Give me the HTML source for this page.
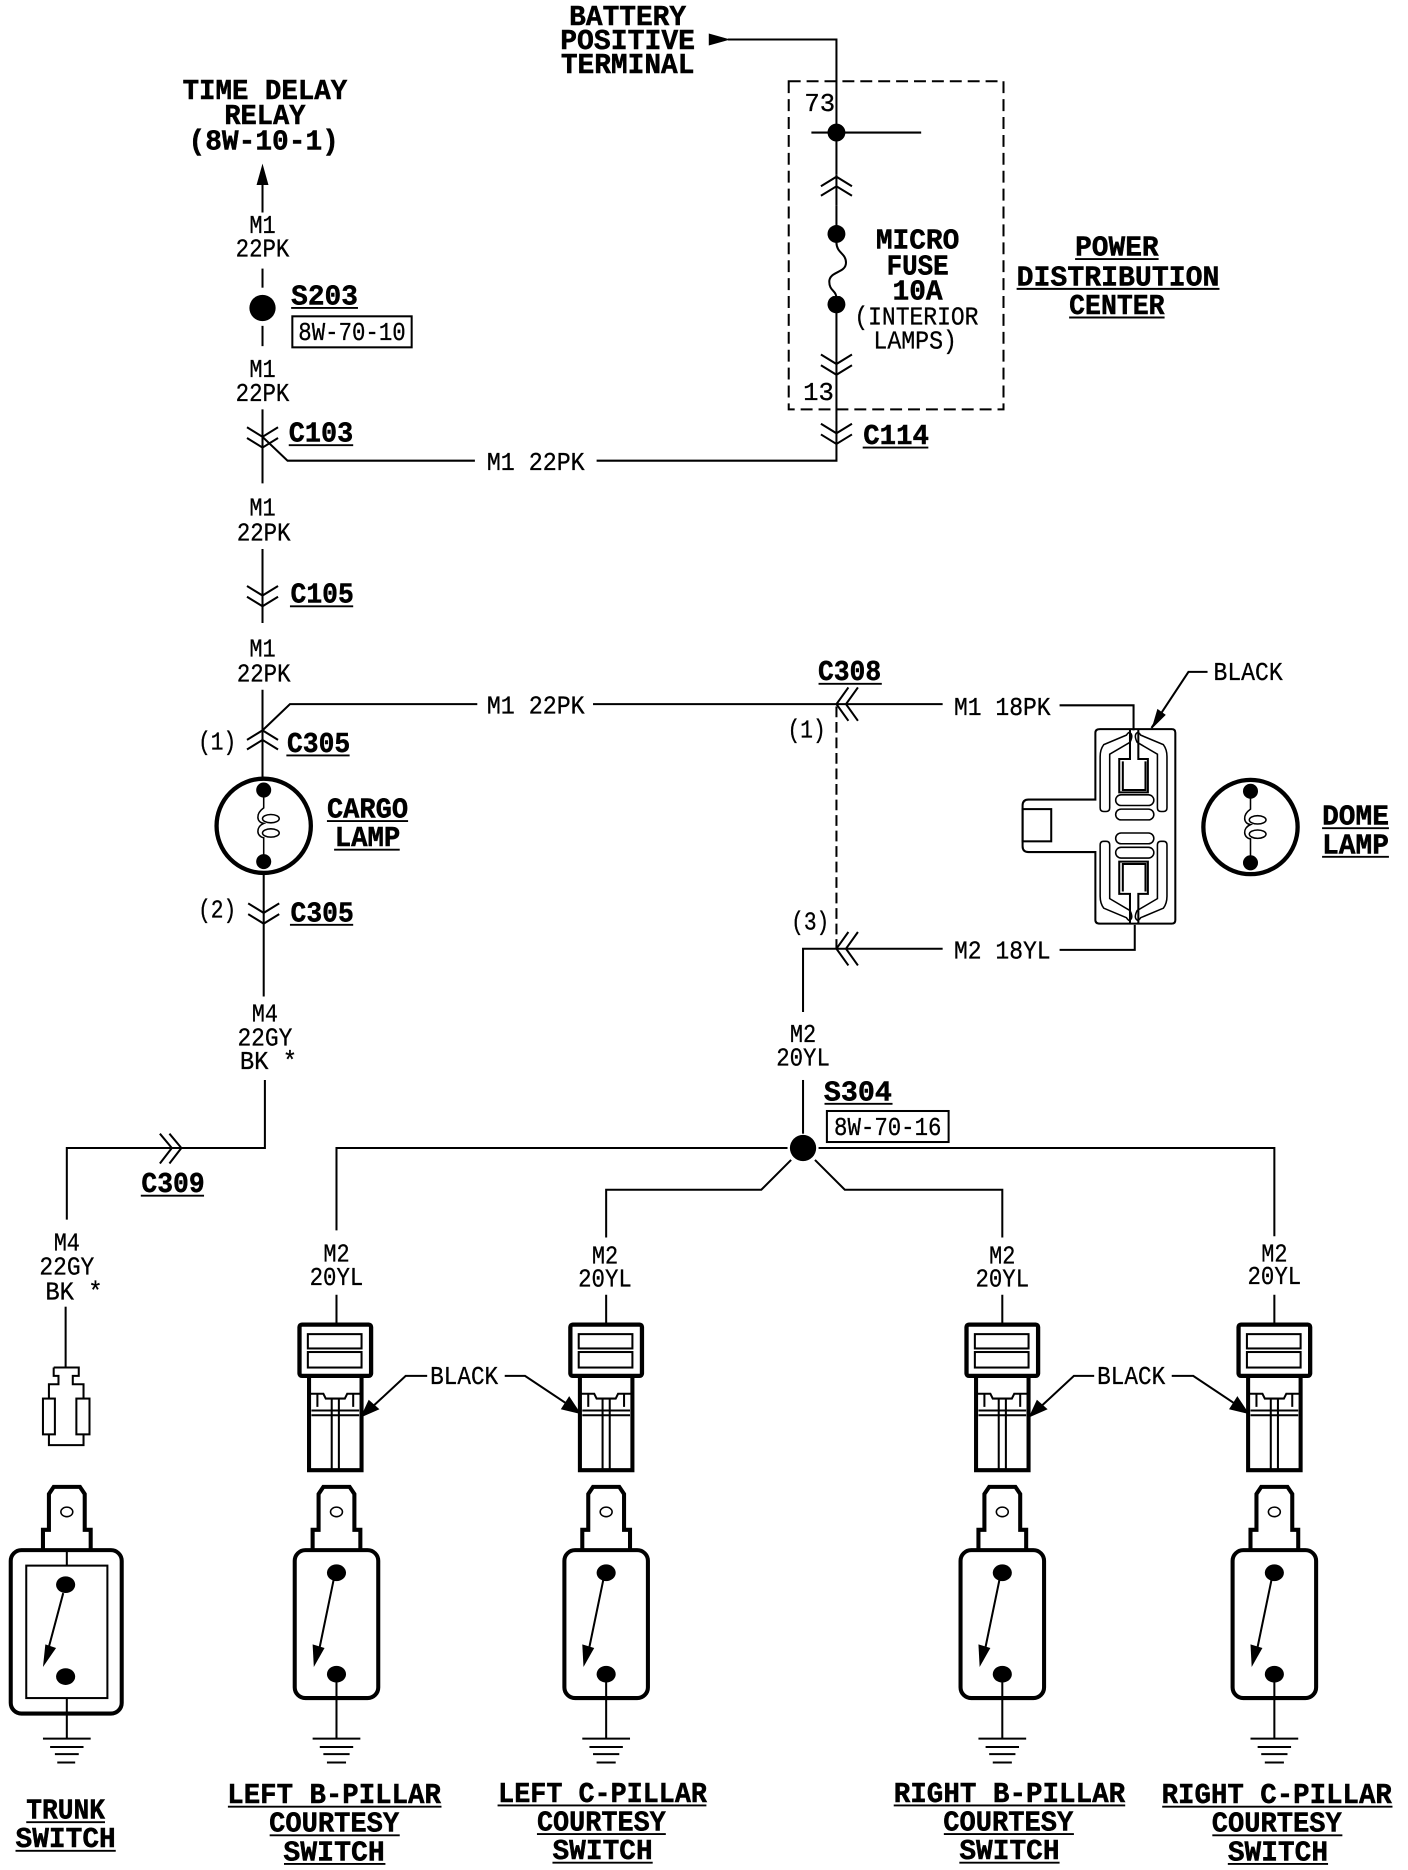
<!DOCTYPE html>
<html><head><meta charset="utf-8"><title>Interior lamps wiring diagram</title>
<style>
html,body{margin:0;padding:0;background:#fff;}
svg{display:block;}
text{fill:#000;font-family:"Liberation Mono",monospace;}
.t{font-size:21.5px;text-anchor:middle;transform:translateY(1px);stroke:#000;stroke-width:.25px;}
.b{font-size:24px;font-weight:bold;text-anchor:middle;stroke:#000;stroke-width:.4px;transform:translateY(1px);}
.w{fill:none;stroke:#000;stroke-width:1.7;}
.k{fill:none;stroke:#000;stroke-width:3.4;}
.n{fill:none;stroke:#000;stroke-width:1.3;}
.u{stroke:#000;stroke-width:1.6;}
.f{fill:#000;stroke:none;}
</style></head><body>
<svg width="1408" height="1870" viewBox="0 0 1180 1567" xmlns="http://www.w3.org/2000/svg">
<defs>
<path id="cd" class="w" d="M-13,-8 L0,0 L13,-8 M-13,1 L0,9 L13,1"/>
<path id="cu" class="w" d="M-13,8 L0,0 L13,8 M-13,16 L0,8 L13,16"/>
<path id="cl" class="w" d="M10,-14 L0,0 L10,14 M18,-14 L8,0 L18,14"/>
<g id="lamp">
<circle r="39.5" fill="#fff" stroke="#000" stroke-width="3.6"/>
<circle cy="-30" r="6.3" class="f"/><circle cy="30" r="6.3" class="f"/>
<path class="n" stroke-width="1.5" d="M0,-30 V-15 C-7,-10 -6,-3 0,-2 C-7,1 -6,9 0,10 V30"/>
<ellipse class="n" cx="6" cy="-6" rx="7" ry="3.5"/>
<ellipse class="n" cx="6" cy="6" rx="7" ry="3.5"/>
</g>
<g id="tab">
<path class="k" d="M-20,1299 V1282 H-15 V1252 L-11,1246 H11 L15,1252 V1282 H20 V1299"/>
<ellipse class="n" cy="1267" rx="5" ry="4"/>
</g>
<g id="gnd">
<path class="w" d="M0,1423 V1457"/>
<path class="w" d="M-20,1457 H20 M-14,1464 H14 M-11,1470 H11 M-8,1477 H8"/>
</g>
<g id="sw">
<use href="#tab"/>
<rect x="-35" y="1299" width="70" height="124" rx="9" fill="#fff" stroke="#000" stroke-width="3.4"/>
<ellipse cy="1318" rx="8" ry="7" class="f"/><ellipse cy="1403" rx="8" ry="7" class="f"/>
<path class="w" d="M-2,1322 L-14,1380"/>
<path class="f" d="M-19,1397 L-20,1378 L-10,1381 Z"/>
<path class="w" d="M0,1403 V1423"/>
<use href="#gnd"/>
</g>
<g id="cn">
<rect x="-30" y="1110" width="60" height="43" rx="2" fill="#fff" stroke="#000" stroke-width="3.6"/>
<rect x="-23" y="1118" width="45" height="12" class="w"/>
<rect x="-23" y="1133" width="45" height="13" class="w"/>
<path class="k" d="M-22,1153 V1232 H22 V1153"/>
<path class="w" d="M-22,1168 H-15 V1179 M22,1168 H15 V1179 M-15,1168 H-10 L-8,1172 H8 L10,1168 H15 M-20,1182 H20 M-20,1186 H20"/>
<path class="w" d="M-3,1172 V1232 M3,1172 V1232"/>
</g>
<g id="dome-q">
<path class="n" stroke-width="1.5" d="M-6,616 L-25,624 Q-28,628 -28,634 V677 Q-28,680 -25,680 H-23 Q-20,680 -20,677 V632 L-3,622 Q0,616 -3,614 Q-4,613 -6,616 Z"/>
</g>
</defs>

<!-- Battery -->
<text class="b" x="526" y="20" textLength="98" lengthAdjust="spacingAndGlyphs">BATTERY</text>
<text class="b" x="526" y="40" textLength="113" lengthAdjust="spacingAndGlyphs">POSITIVE</text>
<text class="b" x="526" y="60" textLength="112" lengthAdjust="spacingAndGlyphs">TERMINAL</text>
<path class="f" d="M594,28 L612,33 L594,38 Z"/>
<path class="w" d="M610,33 H701 V386 H500"/>

<!-- PDC box -->
<rect x="661" y="68" width="180" height="275" fill="none" stroke="#000" stroke-width="1.7" stroke-dasharray="10 5"/>
<text class="t" x="687" y="92">73</text>
<text class="t" x="686" y="334">13</text>
<path class="w" d="M680,111 H772"/>
<circle cx="701" cy="111" r="7.5" class="f"/>
<rect x="688" y="146" width="26" height="26" fill="#fff"/>
<use href="#cu" x="701" y="148"/>
<path class="w" d="M701,146 V172"/>
<circle cx="701" cy="196" r="7.5" class="f"/>
<circle cx="701" cy="255" r="7.5" class="f"/>
<rect x="692" y="204" width="20" height="44" fill="#fff"/>
<path class="w" d="M701,203 C701,212 709,212 709,220 C709,229 695,227 695,236 C695,244 701,243 701,250"/>
<use href="#cd" x="701" y="305"/>
<use href="#cd" x="701" y="363"/>

<text class="b" x="769" y="207" textLength="70" lengthAdjust="spacingAndGlyphs">MICRO</text>
<text class="b" x="769" y="229" textLength="52" lengthAdjust="spacingAndGlyphs">FUSE</text>
<text class="b" x="769" y="250" textLength="42" lengthAdjust="spacingAndGlyphs">10A</text>
<text class="t" x="768" y="271" textLength="104" lengthAdjust="spacingAndGlyphs">(INTERIOR</text>
<text class="t" x="767" y="291" textLength="70" lengthAdjust="spacingAndGlyphs">LAMPS)</text>

<text class="b" x="936" y="213" textLength="70" lengthAdjust="spacingAndGlyphs">POWER</text><line class="u" x1="901" x2="971" y1="217" y2="217"/>
<text class="b" x="937" y="238" textLength="170" lengthAdjust="spacingAndGlyphs">DISTRIBUTION</text><line class="u" x1="852" x2="1022" y1="242" y2="242"/>
<text class="b" x="936" y="262" textLength="80" lengthAdjust="spacingAndGlyphs">CENTER</text><line class="u" x1="896" x2="976" y1="266" y2="266"/>
<text class="b" x="751" y="371" textLength="55" lengthAdjust="spacingAndGlyphs">C114</text><line class="u" x1="723" x2="778" y1="375" y2="375"/>

<text class="t" x="449" y="393" textLength="82" lengthAdjust="spacingAndGlyphs">M1 22PK</text>
<path class="w" d="M398,386 H241 L220,366"/>

<!-- Left column -->
<text class="b" x="222" y="82" textLength="138" lengthAdjust="spacingAndGlyphs">TIME DELAY</text>
<text class="b" x="222" y="103" textLength="68" lengthAdjust="spacingAndGlyphs">RELAY</text>
<text class="b" x="221" y="124" textLength="126" lengthAdjust="spacingAndGlyphs">(8W-10-1)</text>
<path class="f" d="M220,137 L225,155 H215 Z"/>
<path class="w" d="M220,154 V178"/>
<text class="t" x="220" y="194" textLength="22" lengthAdjust="spacingAndGlyphs">M1</text>
<text class="t" x="220" y="214" textLength="45" lengthAdjust="spacingAndGlyphs">22PK</text>
<path class="w" d="M220,225 V241"/>
<circle cx="220" cy="258" r="11" class="f"/>
<path class="w" d="M220,273 V290"/>
<text class="b" x="272" y="254" textLength="56" lengthAdjust="spacingAndGlyphs">S203</text><line class="u" x1="244" x2="300" y1="258" y2="258"/>
<rect x="245" y="265" width="100" height="26" class="w"/>
<text class="t" x="295" y="284" textLength="90" lengthAdjust="spacingAndGlyphs">8W-70-10</text>
<text class="t" x="220" y="315" textLength="22" lengthAdjust="spacingAndGlyphs">M1</text>
<text class="t" x="220" y="335" textLength="45" lengthAdjust="spacingAndGlyphs">22PK</text>
<path class="w" d="M220,343 V405"/>
<use href="#cd" x="220" y="366"/>
<text class="b" x="269" y="369" textLength="54" lengthAdjust="spacingAndGlyphs">C103</text><line class="u" x1="242" x2="296" y1="373" y2="373"/>
<text class="t" x="220" y="431" textLength="22" lengthAdjust="spacingAndGlyphs">M1</text>
<text class="t" x="221" y="452" textLength="45" lengthAdjust="spacingAndGlyphs">22PK</text>
<path class="w" d="M220,460 V522"/>
<use href="#cd" x="220" y="499"/>
<text class="b" x="270" y="504" textLength="53" lengthAdjust="spacingAndGlyphs">C105</text><line class="u" x1="243" x2="296" y1="508" y2="508"/>
<text class="t" x="220" y="549" textLength="22" lengthAdjust="spacingAndGlyphs">M1</text>
<text class="t" x="221" y="570" textLength="45" lengthAdjust="spacingAndGlyphs">22PK</text>
<path class="w" d="M220,578 V652"/>
<use href="#cu" x="220" y="612"/>
<path class="w" d="M220,612 L243,590 H400"/>
<text class="t" x="449" y="597" textLength="82" lengthAdjust="spacingAndGlyphs">M1 22PK</text>
<text class="t" x="182" y="627" textLength="32" lengthAdjust="spacingAndGlyphs">(1)</text>
<text class="b" x="267" y="629" textLength="53" lengthAdjust="spacingAndGlyphs">C305</text><line class="u" x1="240" x2="293" y1="633" y2="633"/>

<use href="#lamp" x="221" y="692"/>
<text class="b" x="308" y="684" textLength="68" lengthAdjust="spacingAndGlyphs">CARGO</text><line class="u" x1="274" x2="342" y1="688" y2="688"/>
<text class="b" x="308" y="708" textLength="55" lengthAdjust="spacingAndGlyphs">LAMP</text><line class="u" x1="280" x2="335" y1="712" y2="712"/>

<path class="w" d="M221,732 V835"/>
<use href="#cd" x="221" y="765"/>
<text class="t" x="182" y="768" textLength="32" lengthAdjust="spacingAndGlyphs">(2)</text>
<text class="b" x="270" y="771" textLength="53" lengthAdjust="spacingAndGlyphs">C305</text><line class="u" x1="243" x2="296" y1="775" y2="775"/>
<text class="t" x="222" y="855" textLength="22" lengthAdjust="spacingAndGlyphs">M4</text>
<text class="t" x="222" y="875" textLength="46" lengthAdjust="spacingAndGlyphs">22GY</text>
<text class="t" x="225" y="895" textLength="48" lengthAdjust="spacingAndGlyphs">BK *</text>
<path class="w" d="M222,905 V962 H56 V1022"/>
<path class="w" d="M134,950 L144,962 L134,975 M142,950 L152,962 L142,975"/>
<text class="b" x="145" y="998" textLength="53" lengthAdjust="spacingAndGlyphs">C309</text><line class="u" x1="118" x2="171" y1="1002" y2="1002"/>
<text class="t" x="56" y="1047" textLength="22" lengthAdjust="spacingAndGlyphs">M4</text>
<text class="t" x="56" y="1067" textLength="46" lengthAdjust="spacingAndGlyphs">22GY</text>
<text class="t" x="62" y="1088" textLength="48" lengthAdjust="spacingAndGlyphs">BK *</text>
<path class="w" d="M55,1095 V1146"/>

<!-- Trunk connector -->
<path class="w" d="M45,1146 H66 V1153 H61 V1160 H70 V1172 M45,1146 V1153 H49 V1160 H41 V1172 M41,1202 V1211 H70 V1202"/>
<rect x="36" y="1172" width="10" height="30" class="w"/>
<rect x="64" y="1172" width="11" height="30" class="w"/>

<!-- Trunk switch -->
<use href="#tab" x="56"/>
<rect x="9" y="1299" width="93" height="137" rx="9" fill="#fff" stroke="#000" stroke-width="3.4"/>
<rect x="22" y="1312" width="68" height="111" class="w"/>
<path class="w" d="M56,1299 V1312 M56,1423 V1457 M36,1457 H76 M42,1464 H70 M46,1470 H66 M48,1477 H63"/>
<ellipse cx="55" cy="1328" rx="8" ry="7" class="f"/>
<ellipse cx="55" cy="1405" rx="8" ry="7" class="f"/>
<path class="w" d="M53,1335 L41,1380"/>
<path class="f" d="M36,1397 L38,1378 L47,1381 Z"/>
<text class="b" x="55" y="1523" textLength="66" lengthAdjust="spacingAndGlyphs">TRUNK</text><line class="u" x1="22" x2="88" y1="1527" y2="1527"/>
<text class="b" x="55" y="1547" textLength="84" lengthAdjust="spacingAndGlyphs">SWITCH</text><line class="u" x1="13" x2="97" y1="1551" y2="1551"/>

<!-- C308 -->
<text class="b" x="712" y="569" textLength="53" lengthAdjust="spacingAndGlyphs">C308</text><line class="u" x1="686" x2="739" y1="573" y2="573"/>
<path class="w" d="M497,590 H790"/>
<use href="#cl" x="701" y="590"/>
<text class="t" x="676" y="617" textLength="32" lengthAdjust="spacingAndGlyphs">(1)</text>
<path class="w" stroke-dasharray="9 4" d="M701,592 V795"/>
<text class="t" x="679" y="778" textLength="32" lengthAdjust="spacingAndGlyphs">(3)</text>
<path class="w" d="M790,795 H673 V848"/>
<use href="#cl" x="701" y="795"/>
<text class="t" x="840" y="598" textLength="81" lengthAdjust="spacingAndGlyphs">M1 18PK</text>
<text class="t" x="840" y="802" textLength="81" lengthAdjust="spacingAndGlyphs">M2 18YL</text>
<path class="w" d="M888,591 H950 V612 M888,796 H951 V775"/>

<!-- Dome connector -->
<path class="w" d="M922,611 H982 Q985,611 985,614 V771 Q985,774 982,774 H922 Q918,774 918,771 V714 H862 Q857,714 857,709 V675 Q857,670 862,670 H918 V614 Q918,611 922,611 Z"/>
<rect x="857" y="678" width="24" height="27" class="w"/>
<path class="w" d="M947,611 V636 H938 V664 H962 V636 H954 V611"/>
<path class="w" d="M941,638 V662 H960 V638"/>
<path class="w" d="M947,774 V749 H938 V722 H962 V749 H954 V774"/>
<path class="w" d="M941,747 V724 H960 V747"/>
<rect x="935" y="666" width="32" height="9" rx="4.5" class="n"/>
<rect x="935" y="678" width="32" height="9" rx="4.5" class="n"/>
<rect x="935" y="698" width="32" height="9" rx="4.5" class="n"/>
<rect x="935" y="710" width="32" height="9" rx="4.5" class="n"/>
<use href="#dome-q" x="950"/>
<use href="#dome-q" transform="translate(950,0) scale(-1,1)"/>
<use href="#dome-q" transform="translate(950,1385) scale(1,-1)"/>
<use href="#dome-q" transform="translate(950,1385) scale(-1,-1)"/>
<path class="w" d="M965,610 L996,563 H1012"/>
<path class="f" d="M965,611 L970,594 L977,599 Z"/>
<text class="t" x="1046" y="569" textLength="58" lengthAdjust="spacingAndGlyphs">BLACK</text>

<use href="#lamp" x="1048" y="693"/>
<text class="b" x="1136" y="690" textLength="56" lengthAdjust="spacingAndGlyphs">DOME</text><line class="u" x1="1108" x2="1164" y1="694" y2="694"/>
<text class="b" x="1136" y="714" textLength="56" lengthAdjust="spacingAndGlyphs">LAMP</text><line class="u" x1="1108" x2="1164" y1="718" y2="718"/>

<!-- S304 -->
<text class="t" x="673" y="872" textLength="22" lengthAdjust="spacingAndGlyphs">M2</text>
<text class="t" x="673" y="892" textLength="45" lengthAdjust="spacingAndGlyphs">20YL</text>
<path class="w" d="M673,905 V950"/>
<circle cx="673" cy="962" r="11" class="f"/>
<text class="b" x="719" y="921" textLength="57" lengthAdjust="spacingAndGlyphs">S304</text><line class="u" x1="691" x2="748" y1="925" y2="925"/>
<rect x="693" y="931" width="102" height="26" class="w"/>
<text class="t" x="744" y="950" textLength="90" lengthAdjust="spacingAndGlyphs">8W-70-16</text>
<path class="w" d="M660,962 H282 V1031 M686,962 H1068 V1036 M663,972 L638,997 H508 V1037 M683,972 L708,997 H840 V1037"/>

<!-- Column labels -->
<text class="t" x="282" y="1056" textLength="22" lengthAdjust="spacingAndGlyphs">M2</text>
<text class="t" x="282" y="1076" textLength="45" lengthAdjust="spacingAndGlyphs">20YL</text>
<text class="t" x="507" y="1058" textLength="22" lengthAdjust="spacingAndGlyphs">M2</text>
<text class="t" x="507" y="1077" textLength="45" lengthAdjust="spacingAndGlyphs">20YL</text>
<text class="t" x="840" y="1058" textLength="22" lengthAdjust="spacingAndGlyphs">M2</text>
<text class="t" x="840" y="1077" textLength="45" lengthAdjust="spacingAndGlyphs">20YL</text>
<text class="t" x="1068" y="1056" textLength="22" lengthAdjust="spacingAndGlyphs">M2</text>
<text class="t" x="1068" y="1075" textLength="45" lengthAdjust="spacingAndGlyphs">20YL</text>
<path class="w" d="M282,1085 V1110 M508,1085 V1110 M840,1085 V1110 M1068,1085 V1110"/>

<use href="#cn" x="281"/><use href="#cn" x="508"/><use href="#cn" x="840"/><use href="#cn" x="1068"/>
<use href="#sw" x="282"/><use href="#sw" x="508"/><use href="#sw" x="840"/><use href="#sw" x="1068"/>

<!-- BLACK callouts -->
<text class="t" x="389" y="1159" textLength="57" lengthAdjust="spacingAndGlyphs">BLACK</text>
<path class="w" d="M358,1153 H340 L312,1179"/>
<path class="f" d="M302,1188 L309,1173 L318,1181 Z"/>
<path class="w" d="M423,1153 H440 L476,1177"/>
<path class="f" d="M487,1185 L470,1181 L477,1170 Z"/>
<text class="t" x="948" y="1159" textLength="57" lengthAdjust="spacingAndGlyphs">BLACK</text>
<path class="w" d="M917,1153 H900 L872,1179"/>
<path class="f" d="M862,1188 L869,1173 L878,1181 Z"/>
<path class="w" d="M982,1153 H1000 L1036,1177"/>
<path class="f" d="M1047,1185 L1030,1181 L1037,1170 Z"/>

<!-- Bottom titles -->
<text class="b" x="280" y="1510" textLength="179" lengthAdjust="spacingAndGlyphs">LEFT B-PILLAR</text><line class="u" x1="191" x2="370" y1="1514" y2="1514"/>
<text class="b" x="280" y="1534" textLength="109" lengthAdjust="spacingAndGlyphs">COURTESY</text><line class="u" x1="226" x2="335" y1="1538" y2="1538"/>
<text class="b" x="280" y="1558" textLength="85" lengthAdjust="spacingAndGlyphs">SWITCH</text><line class="u" x1="238" x2="323" y1="1562" y2="1562"/>

<text class="b" x="505" y="1509" textLength="175" lengthAdjust="spacingAndGlyphs">LEFT C-PILLAR</text><line class="u" x1="417" x2="592" y1="1513" y2="1513"/>
<text class="b" x="504" y="1533" textLength="108" lengthAdjust="spacingAndGlyphs">COURTESY</text><line class="u" x1="450" x2="558" y1="1537" y2="1537"/>
<text class="b" x="505" y="1557" textLength="84" lengthAdjust="spacingAndGlyphs">SWITCH</text><line class="u" x1="463" x2="547" y1="1561" y2="1561"/>

<text class="b" x="846" y="1509" textLength="194" lengthAdjust="spacingAndGlyphs">RIGHT B-PILLAR</text><line class="u" x1="749" x2="943" y1="1513" y2="1513"/>
<text class="b" x="845" y="1533" textLength="109" lengthAdjust="spacingAndGlyphs">COURTESY</text><line class="u" x1="791" x2="900" y1="1537" y2="1537"/>
<text class="b" x="846" y="1557" textLength="84" lengthAdjust="spacingAndGlyphs">SWITCH</text><line class="u" x1="804" x2="888" y1="1561" y2="1561"/>

<text class="b" x="1070" y="1510" textLength="193" lengthAdjust="spacingAndGlyphs">RIGHT C-PILLAR</text><line class="u" x1="974" x2="1167" y1="1514" y2="1514"/>
<text class="b" x="1070" y="1534" textLength="109" lengthAdjust="spacingAndGlyphs">COURTESY</text><line class="u" x1="1016" x2="1125" y1="1538" y2="1538"/>
<text class="b" x="1071" y="1558" textLength="84" lengthAdjust="spacingAndGlyphs">SWITCH</text><line class="u" x1="1029" x2="1113" y1="1562" y2="1562"/>
</svg>
</body></html>
